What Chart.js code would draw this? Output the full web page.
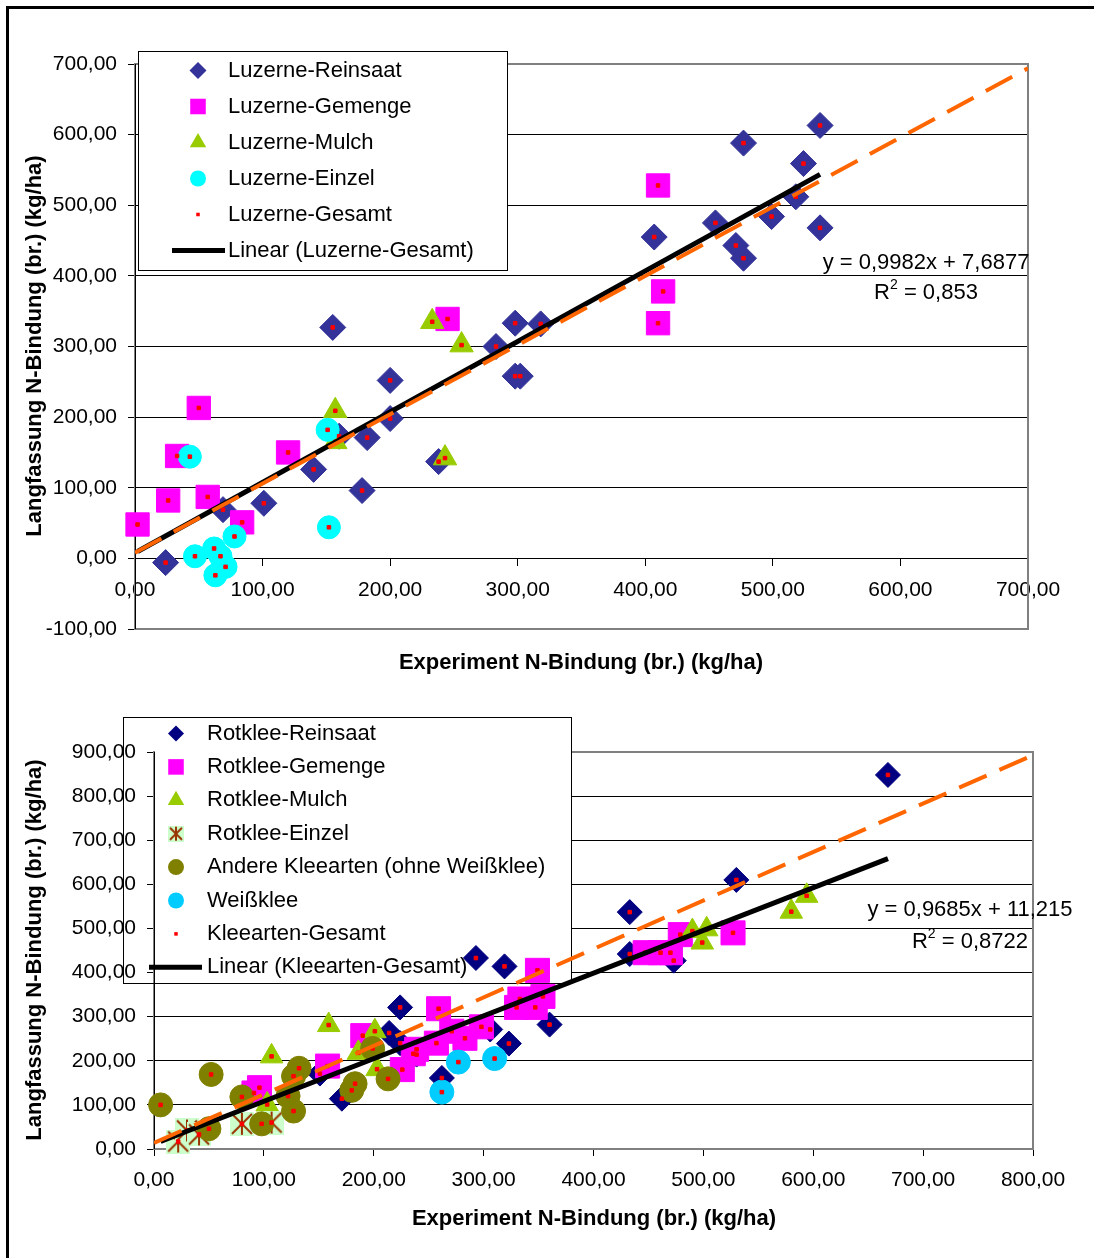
<!DOCTYPE html>
<html>
<head>
<meta charset="utf-8">
<script src="https://cdn.jsdelivr.net/npm/chart.js@4.4.1/dist/chart.umd.min.js"></script>
<style>
  html, body { margin: 0; padding: 0; background: #fff; }
  #page { position: relative; width: 1094px; height: 1258px; overflow: hidden; }
  #frame { position: absolute; left: 6px; top: 6px; width: 1200px; height: 1400px;
           border-left: 3px solid #000; border-top: 3px solid #000; }
  canvas { position: absolute; left: 0; }
  #chart1 { top: 0; }
  #chart2 { top: 690px; }
</style>
</head>
<body>
<div id="page">
  <div id="frame"></div>
  <canvas id="chart1" width="1094" height="690"></canvas>
  <canvas id="chart2" width="1094" height="568"></canvas>
</div>
<script>
// --- Luzerne (oben) ---
const luzReinX = [24, 69, 101, 140, 160, 178, 182, 155, 200, 200, 238, 283, 298, 318, 298, 302, 407, 455, 471, 477, 477, 499, 518, 524, 537, 537];
const luzReinY = [-6, 69, 78, 126, 173, 96, 171, 327, 252, 198, 137, 300, 333, 332, 258, 258, 455, 475, 443, 425, 588, 484, 512, 559, 613, 468];
const luzGemX = [2, 26, 33, 50, 57, 84, 120, 245, 410, 414, 410];
const luzGemY = [48, 82, 145, 213, 87, 51, 150, 339, 528, 378, 333];
const luzMulX = [157, 157, 233, 256, 243];
const luzMulY = [209, 165, 335, 302, 142];
const luzEinX = [43, 47, 62, 67, 71, 63, 78, 151, 152];
const luzEinY = [144, 3, 14, 3, -12, -24, 31, 182, 44];
const luzTrend = [0.9982, 7.6877];        // Steigung, Achsenabschnitt
const luzDiagX = [0, 700];
const luzDiagY = [8, 694];
const luzYTicks = [-100, 700, 100];       // min, max, Schritt
const luzXTicks = [0, 700, 100];

// --- Rotklee / Kleearten (unten) ---
const rkReinX = [151, 171, 214, 224, 224, 239, 262, 293, 319, 306, 323, 360, 433, 433, 473, 530, 668];
const rkReinY = [171, 114, 263, 321, 240, 214, 161, 433, 414, 271, 239, 282, 537, 442, 427, 610, 848];
const rkGemX = [91, 96, 158, 190, 226, 236, 239, 257, 259, 271, 283, 298, 330, 333, 347, 349, 354, 447, 461, 470, 479, 527];
const rkGemY = [127, 139, 188, 257, 180, 216, 226, 240, 318, 267, 251, 277, 321, 340, 321, 405, 346, 445, 445, 445, 486, 490];
const rkMulX = [103, 107, 159, 186, 201, 203, 490, 503, 499, 580, 594];
const rkMulY = [101, 210, 281, 218, 267, 181, 494, 498, 468, 538, 574];
const rkEinX = [22, 30, 41, 80, 107];
const rkEinY = [17, 42, 33, 57, 60];
const andereX = [6, 52, 50, 80, 98, 122, 127, 132, 127, 180, 183, 199, 213];
const andereY = [100, 169, 46, 118, 57, 120, 165, 183, 86, 133, 148, 228, 159];
const weissX = [262, 277, 310];
const weissY = [129, 197, 205];
const kleeTrend = [0.9685, 11.215];
const kleeDiagX = [0, 800];
const kleeDiagY = [14, 893];
const kleeYTicks = [0, 900, 100];
const kleeXTicks = [0, 800, 100];

const FONT = "'Liberation Sans', Arial, sans-serif";
const fmt = v => v.toFixed(2).replace('.', ',');
const pts = (xs, ys) => xs.map((x, i) => ({ x, y: ys[i] }));

function trendPts(xsList, coef) {
  const all = [].concat(...xsList);
  const lo = Math.min(...all), hi = Math.max(...all);
  return [lo, hi].map(x => ({ x, y: coef[0] * x + coef[1] }));
}

// Stern-Marker mit hellgruenem Hintergrund (Rotklee-Einzel)
function starMarker(size) {
  const c = document.createElement('canvas');
  c.width = size; c.height = size;
  const g = c.getContext('2d');
  g.fillStyle = '#CCFFCC';
  g.fillRect(0, 0, size, size);
  g.strokeStyle = '#993300';
  g.lineWidth = 2;
  const m = 2, e = size - 2;
  g.beginPath();
  g.moveTo(m, m); g.lineTo(e, e);
  g.moveTo(e, m); g.lineTo(m, e);
  g.moveTo(size / 2, m - 1); g.lineTo(size / 2, e + 1);
  g.stroke();
  return c;
}
const starBig = starMarker(24);
const starSmall = starMarker(16);

function drawMarker(ctx, style, r, x, y, color) {
  ctx.save();
  ctx.fillStyle = color;
  ctx.strokeStyle = color;
  ctx.lineWidth = 1;
  if (style instanceof HTMLCanvasElement) {
    ctx.drawImage(style, x - style.width / 2, y - style.height / 2);
  } else {
    Chart.helpers.drawPoint(ctx, { pointStyle: style, radius: r, rotation: 0, borderWidth: 0 }, x, y);
  }
  ctx.restore();
}

function drawSuperR2(ctx, cx, y, val) {
  ctx.font = `22px ${FONT}`;
  const wR = ctx.measureText('R').width;
  ctx.font = `14px ${FONT}`;
  const w2 = ctx.measureText('2').width;
  ctx.font = `22px ${FONT}`;
  const rest = ' = ' + val;
  const wRest = ctx.measureText(rest).width;
  let x = cx - (wR + w2 + wRest) / 2;
  ctx.textAlign = 'left';
  ctx.fillText('R', x, y);
  x += wR;
  ctx.font = `14px ${FONT}`;
  ctx.fillText('2', x, y - 8);
  x += w2;
  ctx.font = `22px ${FONT}`;
  ctx.fillText(rest, x, y);
}

const decor = {
  id: 'decor',
  beforeDatasetsDraw(chart, args, o) {
    const { ctx, chartArea: a } = chart;
    ctx.save();
    // Zeichenflaeche grau umrandet
    ctx.strokeStyle = '#808080';
    ctx.lineWidth = 2;
    ctx.strokeRect(a.left, a.top, a.right - a.left, a.bottom - a.top);

    // Legende
    const L = o.legend;
    ctx.save();
    ctx.beginPath();
    ctx.rect(a.left + 1, 0, chart.width, a.bottom);
    ctx.clip();
    ctx.fillStyle = '#fff';
    ctx.fillRect(L.left, L.top, L.right - L.left, L.bottom - L.top);
    ctx.restore();
    ctx.strokeStyle = '#000';
    ctx.lineWidth = 1;
    ctx.strokeRect(L.left + 0.5, L.top + 0.5, L.right - L.left, L.bottom - L.top);

    // y-Achse wieder drueber
    const ax = Math.round(a.left) + 0.5;
    ctx.beginPath();
    ctx.moveTo(ax, a.top);
    ctx.lineTo(ax, a.bottom);
    ctx.stroke();

    ctx.font = `22px ${FONT}`;
    ctx.textBaseline = 'middle';
    ctx.textAlign = 'left';
    L.items.forEach((it, i) => {
      const y = L.row0 + i * L.step;
      if (it.line) {
        ctx.strokeStyle = '#000';
        ctx.lineWidth = 5;
        ctx.beginPath();
        ctx.moveTo(L.lineX[0], y);
        ctx.lineTo(L.lineX[1], y);
        ctx.stroke();
      } else {
        drawMarker(ctx, it.style, it.r, L.markX, y, it.color);
      }
      ctx.fillStyle = '#000';
      ctx.fillText(it.text, L.textX, y);
    });
    ctx.restore();
  },
  afterDraw(chart, args, o) {
    const { ctx } = chart;
    ctx.save();
    ctx.fillStyle = '#000';
    ctx.textBaseline = 'middle';
    // Gleichung
    const E = o.eq;
    ctx.font = `22px ${FONT}`;
    ctx.textAlign = 'center';
    ctx.fillText(E.text, E.x, E.y1);
    drawSuperR2(ctx, E.x, E.y2, E.r2);
    // Achsentitel
    ctx.font = `bold 22px ${FONT}`;
    ctx.textAlign = 'center';
    ctx.fillText(o.xTitle.text, o.xTitle.x, o.xTitle.y);
    ctx.translate(o.yTitle.x, o.yTitle.y);
    ctx.rotate(-Math.PI / 2);
    ctx.fillText(o.yTitle.text, 0, 0);
    ctx.restore();
  }
};

function markerSet(label, data, style, r, color, order) {
  return {
    label, data, order,
    pointStyle: style, pointRadius: r, pointHoverRadius: r,
    backgroundColor: color, borderColor: color, borderWidth: 1,
    clip: false
  };
}

function axes(xT, yT, yWidth, xPos, xPad) {
  const tickFont = { family: FONT, size: 21 };
  return {
    x: {
      type: 'linear', min: xT[0], max: xT[1], position: xPos,
      afterFit: s => { s.height = 45; },
      ticks: { stepSize: xT[2], callback: fmt, color: '#000', font: tickFont, padding: xPad, maxRotation: 0, autoSkip: false },
      grid: { drawOnChartArea: false, tickLength: 7, color: '#000' },
      border: { color: '#000', width: 1 }
    },
    y: {
      type: 'linear', min: yT[0], max: yT[1],
      afterFit: s => { s.width = yWidth; },
      ticks: { stepSize: yT[2], callback: fmt, color: '#000', font: tickFont, padding: 11 },
      grid: { color: '#000', lineWidth: 1, tickLength: 7 },
      border: { color: '#000', width: 1 }
    }
  };
}

// ---------- Diagramm 1: Luzerne ----------
const luzAllX = [luzReinX, luzGemX, luzMulX, luzEinX];
const luzAll = pts([].concat(...luzAllX), [].concat(luzReinY, luzGemY, luzMulY, luzEinY));

new Chart(document.getElementById('chart1'), {
  type: 'scatter',
  data: {
    datasets: [
      { data: pts(luzDiagX, luzDiagY), showLine: true, borderColor: '#FF6600', borderWidth: 4,
        borderDash: [30, 14], pointRadius: 0, order: 0 },
      { data: trendPts(luzAllX, luzTrend), showLine: true, borderColor: '#000', borderWidth: 5,
        pointRadius: 0, order: 1 },
      markerSet('Luzerne-Gesamt', luzAll, 'rect', 2.5, '#FF0000', 2),
      markerSet('Luzerne-Einzel', pts(luzEinX, luzEinY), 'circle', 11.5, '#00FFFF', 3),
      markerSet('Luzerne-Mulch', pts(luzMulX, luzMulY), 'triangle', 13.5, '#99CC00', 4),
      markerSet('Luzerne-Gemenge', pts(luzGemX, luzGemY), 'rect', 16.5, '#FF00FF', 5),
      markerSet('Luzerne-Reinsaat', pts(luzReinX, luzReinY), 'rectRot', 13, '#333399', 6)
    ]
  },
  options: {
    responsive: false, animation: false, events: [],
    layout: { padding: { left: 0, top: 64, right: 66, bottom: 61 } },
    scales: axes(luzXTicks, luzYTicks, 135, { y: 0 }, 12),
    plugins: {
      legend: { display: false }, tooltip: { enabled: false },
      decor: {
        legend: {
          left: 138, top: 51, right: 507, bottom: 270,
          row0: 70.5, step: 36, markX: 198, textX: 228, lineX: [172, 225],
          items: [
            { text: 'Luzerne-Reinsaat', style: 'rectRot', r: 8.5, color: '#333399' },
            { text: 'Luzerne-Gemenge', style: 'rect', r: 11, color: '#FF00FF' },
            { text: 'Luzerne-Mulch', style: 'triangle', r: 9.5, color: '#99CC00' },
            { text: 'Luzerne-Einzel', style: 'circle', r: 8, color: '#00FFFF' },
            { text: 'Luzerne-Gesamt', style: 'rect', r: 2.5, color: '#FF0000' },
            { text: 'Linear (Luzerne-Gesamt)', line: true }
          ]
        },
        eq: { text: 'y = 0,9982x + 7,6877', r2: '0,853', x: 926, y1: 263, y2: 293 },
        xTitle: { text: 'Experiment N-Bindung (br.) (kg/ha)', x: 581, y: 663 },
        yTitle: { text: 'Langfassung N-Bindung (br.) (kg/ha)', x: 35, y: 346 }
      }
    }
  },
  plugins: [decor]
});

// ---------- Diagramm 2: Kleearten ----------
const kleeAllX = [rkReinX, rkGemX, rkMulX, rkEinX, andereX, weissX];
const kleeAll = pts([].concat(...kleeAllX), [].concat(rkReinY, rkGemY, rkMulY, rkEinY, andereY, weissY));

new Chart(document.getElementById('chart2'), {
  type: 'scatter',
  data: {
    datasets: [
      { data: pts(kleeDiagX, kleeDiagY), showLine: true, borderColor: '#FF6600', borderWidth: 4,
        borderDash: [30, 14], pointRadius: 0, order: 0 },
      { data: trendPts(kleeAllX, kleeTrend), showLine: true, borderColor: '#000', borderWidth: 5,
        pointRadius: 0, order: 1 },
      markerSet('Kleearten-Gesamt', kleeAll, 'rect', 2.5, '#FF0000', 2),
      markerSet('Weißklee', pts(weissX, weissY), 'circle', 12, '#00CCFF', 3),
      markerSet('Andere Kleearten (ohne Weißklee)', pts(andereX, andereY), 'circle', 12, '#808000', 4),
      markerSet('Rotklee-Einzel', pts(rkEinX, rkEinY), starBig, 12, '#993300', 5),
      markerSet('Rotklee-Mulch', pts(rkMulX, rkMulY), 'triangle', 13, '#99CC00', 6),
      markerSet('Rotklee-Gemenge', pts(rkGemX, rkGemY), 'rect', 17, '#FF00FF', 7),
      markerSet('Rotklee-Reinsaat', pts(rkReinX, rkReinY), 'rectRot', 12.5, '#000080', 8)
    ]
  },
  options: {
    responsive: false, animation: false, events: [],
    layout: { padding: { left: 0, top: 62, right: 61, bottom: 64 } },
    scales: axes(kleeXTicks, kleeYTicks, 154, 'bottom', 12),
    plugins: {
      legend: { display: false }, tooltip: { enabled: false },
      decor: {
        legend: {
          left: 123, top: 27, right: 571, bottom: 293,
          row0: 43.5, step: 33.4, markX: 176, textX: 207, lineX: [149, 202],
          items: [
            { text: 'Rotklee-Reinsaat', style: 'rectRot', r: 8, color: '#000080' },
            { text: 'Rotklee-Gemenge', style: 'rect', r: 11, color: '#FF00FF' },
            { text: 'Rotklee-Mulch', style: 'triangle', r: 9.5, color: '#99CC00' },
            { text: 'Rotklee-Einzel', style: starSmall, r: 8, color: '#993300' },
            { text: 'Andere Kleearten (ohne Weißklee)', style: 'circle', r: 8, color: '#808000' },
            { text: 'Weißklee', style: 'circle', r: 8, color: '#00CCFF' },
            { text: 'Kleearten-Gesamt', style: 'rect', r: 2.5, color: '#FF0000' },
            { text: 'Linear (Kleearten-Gesamt)', line: true }
          ]
        },
        eq: { text: 'y = 0,9685x + 11,215', r2: '0,8722', x: 970, y1: 220, y2: 252 },
        xTitle: { text: 'Experiment N-Bindung (br.) (kg/ha)', x: 594, y: 529 },
        yTitle: { text: 'Langfassung N-Bindung (br.) (kg/ha)', x: 35, y: 260 }
      }
    }
  },
  plugins: [decor]
});
</script>
</body>
</html>
